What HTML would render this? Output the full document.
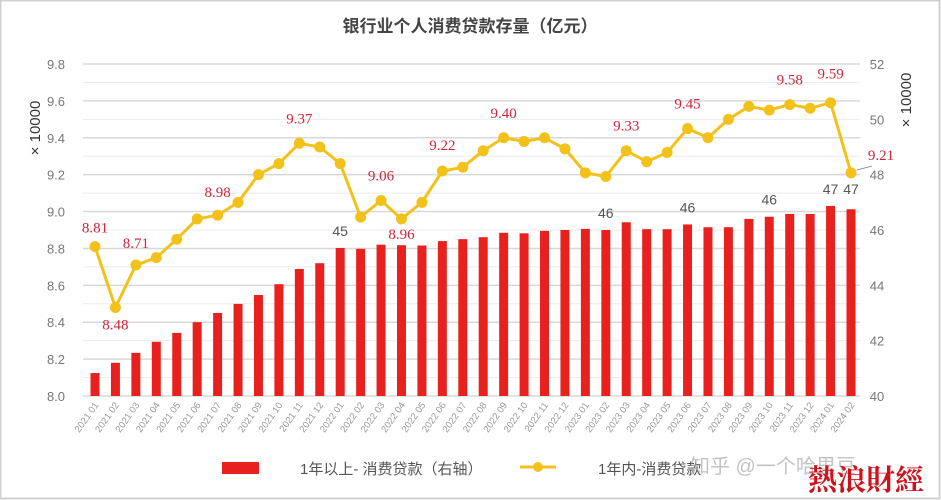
<!DOCTYPE html>
<html><head><meta charset="utf-8"><style>
html,body{margin:0;padding:0;background:#fff;}
svg{display:block;}
</style></head><body>
<svg id="c" width="941" height="500" xmlns="http://www.w3.org/2000/svg" font-family="Liberation Sans, Noto Sans CJK SC, sans-serif">
<rect x="0.5" y="0.5" width="939" height="498" fill="#fff" stroke="#d0d0d0" stroke-width="2"/>
<text x="470" y="32" text-anchor="middle" font-size="17" font-weight="bold" fill="#444">银行业个人消费贷款存量（亿元）</text>
<g id="g"></g>
</svg>
<script>
const s=document.getElementById('g');const NS='http://www.w3.org/2000/svg';
function el(t,a,txt){const e=document.createElementNS(NS,t);for(const k in a)e.setAttribute(k,a[k]);if(txt!==undefined)e.textContent=txt;s.appendChild(e);return e;}
const L=83,R=860,T=64,B=396;
const yl=v=>T+(9.8-v)*(B-T)/1.8, yr=v=>T+(52-v)*(B-T)/12;
for(let i=0;i<=18;i++){const y=T+i*(B-T)/18;el('line',{x1:L,x2:R,y1:y,y2:y,stroke:i%2?'#ececec':'#d8d8d8','stroke-width':i%2?1:1.5});}
for(let i=0;i<=9;i++){const v=9.8-i*0.2;el('text',{x:56,y:yl(v)+5,'text-anchor':'middle','font-size':13,fill:'#777'},v.toFixed(1));}
for(let i=0;i<=6;i++){const v=52-i*2;el('text',{x:877,y:yr(v)+5,'text-anchor':'middle','font-size':13,fill:'#777'},v);}
el('text',{x:0,y:0,transform:'translate(40,128) rotate(-90)','text-anchor':'middle','font-size':15,fill:'#333'},'× 10000');
el('text',{x:0,y:0,transform:'translate(911,100) rotate(-90)','text-anchor':'middle','font-size':15,fill:'#333'},'× 10000');
const line=[8.81,8.48,8.71,8.75,8.85,8.96,8.98,9.05,9.20,9.26,9.37,9.35,9.26,8.97,9.06,8.96,9.05,9.22,9.24,9.33,9.40,9.38,9.40,9.34,9.21,9.19,9.33,9.27,9.32,9.45,9.40,9.50,9.57,9.55,9.58,9.56,9.59,9.21];
const bars=[40.83,41.2,41.56,41.96,42.28,42.67,43.0,43.33,43.65,44.04,44.59,44.8,45.35,45.32,45.47,45.45,45.44,45.6,45.67,45.74,45.9,45.88,45.97,46.0,46.04,46.0,46.28,46.03,46.03,46.2,46.1,46.1,46.4,46.48,46.58,46.58,46.87,46.75];
const x0=95,dx=(851-95)/37,X=i=>x0+i*dx;
const lab=[];let y=2021,m=1;
for(let i=0;i<38;i++){lab.push(y+' '+String(m).padStart(2,'0'));m++;if(m>12){m=1;y++;}}
bars.forEach((v,i)=>{el('rect',{x:X(i)-4.5,y:yr(v),width:9,height:B-yr(v),fill:'#e8211f'});
 const t=el('text',{x:0,y:0,transform:`translate(${X(i)+4},${B+9}) rotate(-55)`,'text-anchor':'end','font-size':9.5,fill:'#999'},lab[i]);});
let d='';line.forEach((v,i)=>d+=(i?'L':'M')+X(i)+' '+yl(v));
el('path',{d:d,fill:'none',stroke:'#f2c21b','stroke-width':3});
line.forEach((v,i)=>el('circle',{cx:X(i),cy:yl(v),r:5.5,fill:'#f2c21b'}));
const rl=[[0,8.81,-14],[1,8.48,22],[2,8.71,-17],[6,8.98,-18],[10,9.37,-20],[14,9.06,-20],[15,8.96,20],[17,9.22,-21],[20,9.40,-20],[26,9.33,-20],[29,9.45,-20],[34,9.58,-20],[36,9.59,-24]];
rl.forEach(([i,v,o])=>el('text',{x:X(i),y:yl(v)+o,'text-anchor':'middle','font-size':15,fill:'#d0243b','font-family':'Liberation Serif, serif'},v.toFixed(2)));
el('text',{x:881,y:160,'text-anchor':'middle','font-size':15,fill:'#d0243b','font-family':'Liberation Serif, serif'},'9.21');
el('line',{x1:857,y1:170,x2:872,y2:166,stroke:'#999','stroke-width':1});
[[12,45],[25,46],[29,46],[33,46],[36,47],[37,47]].forEach(([i,v])=>el('text',{x:X(i),y:(i==37?194:yr(bars[i])-12),'text-anchor':'middle','font-size':14,fill:'#555'},v));
el('rect',{x:222,y:462,width:37,height:12,fill:'#e8211f'});
el('text',{x:300,y:474,'font-size':15,fill:'#555'},'1年以上- 消费贷款（右轴）');
el('line',{x1:520,x2:556,y1:467,y2:467,stroke:'#f2c21b','stroke-width':3});
el('circle',{cx:538,cy:467,r:5,fill:'#f2c21b'});
el('text',{x:598,y:474,'font-size':15,fill:'#555'},'1年内-消费贷款');
el('text',{x:690,y:473,'font-size':20,fill:'#aaa','fill-opacity':0.7},'知乎 @一个哈里豆');
el('text',{x:866,y:490,'text-anchor':'middle','font-size':29,'font-weight':'bold',fill:'#d0101a','font-family':'Noto Serif CJK SC, serif'},'熱浪財經');
</script>
</body></html>
